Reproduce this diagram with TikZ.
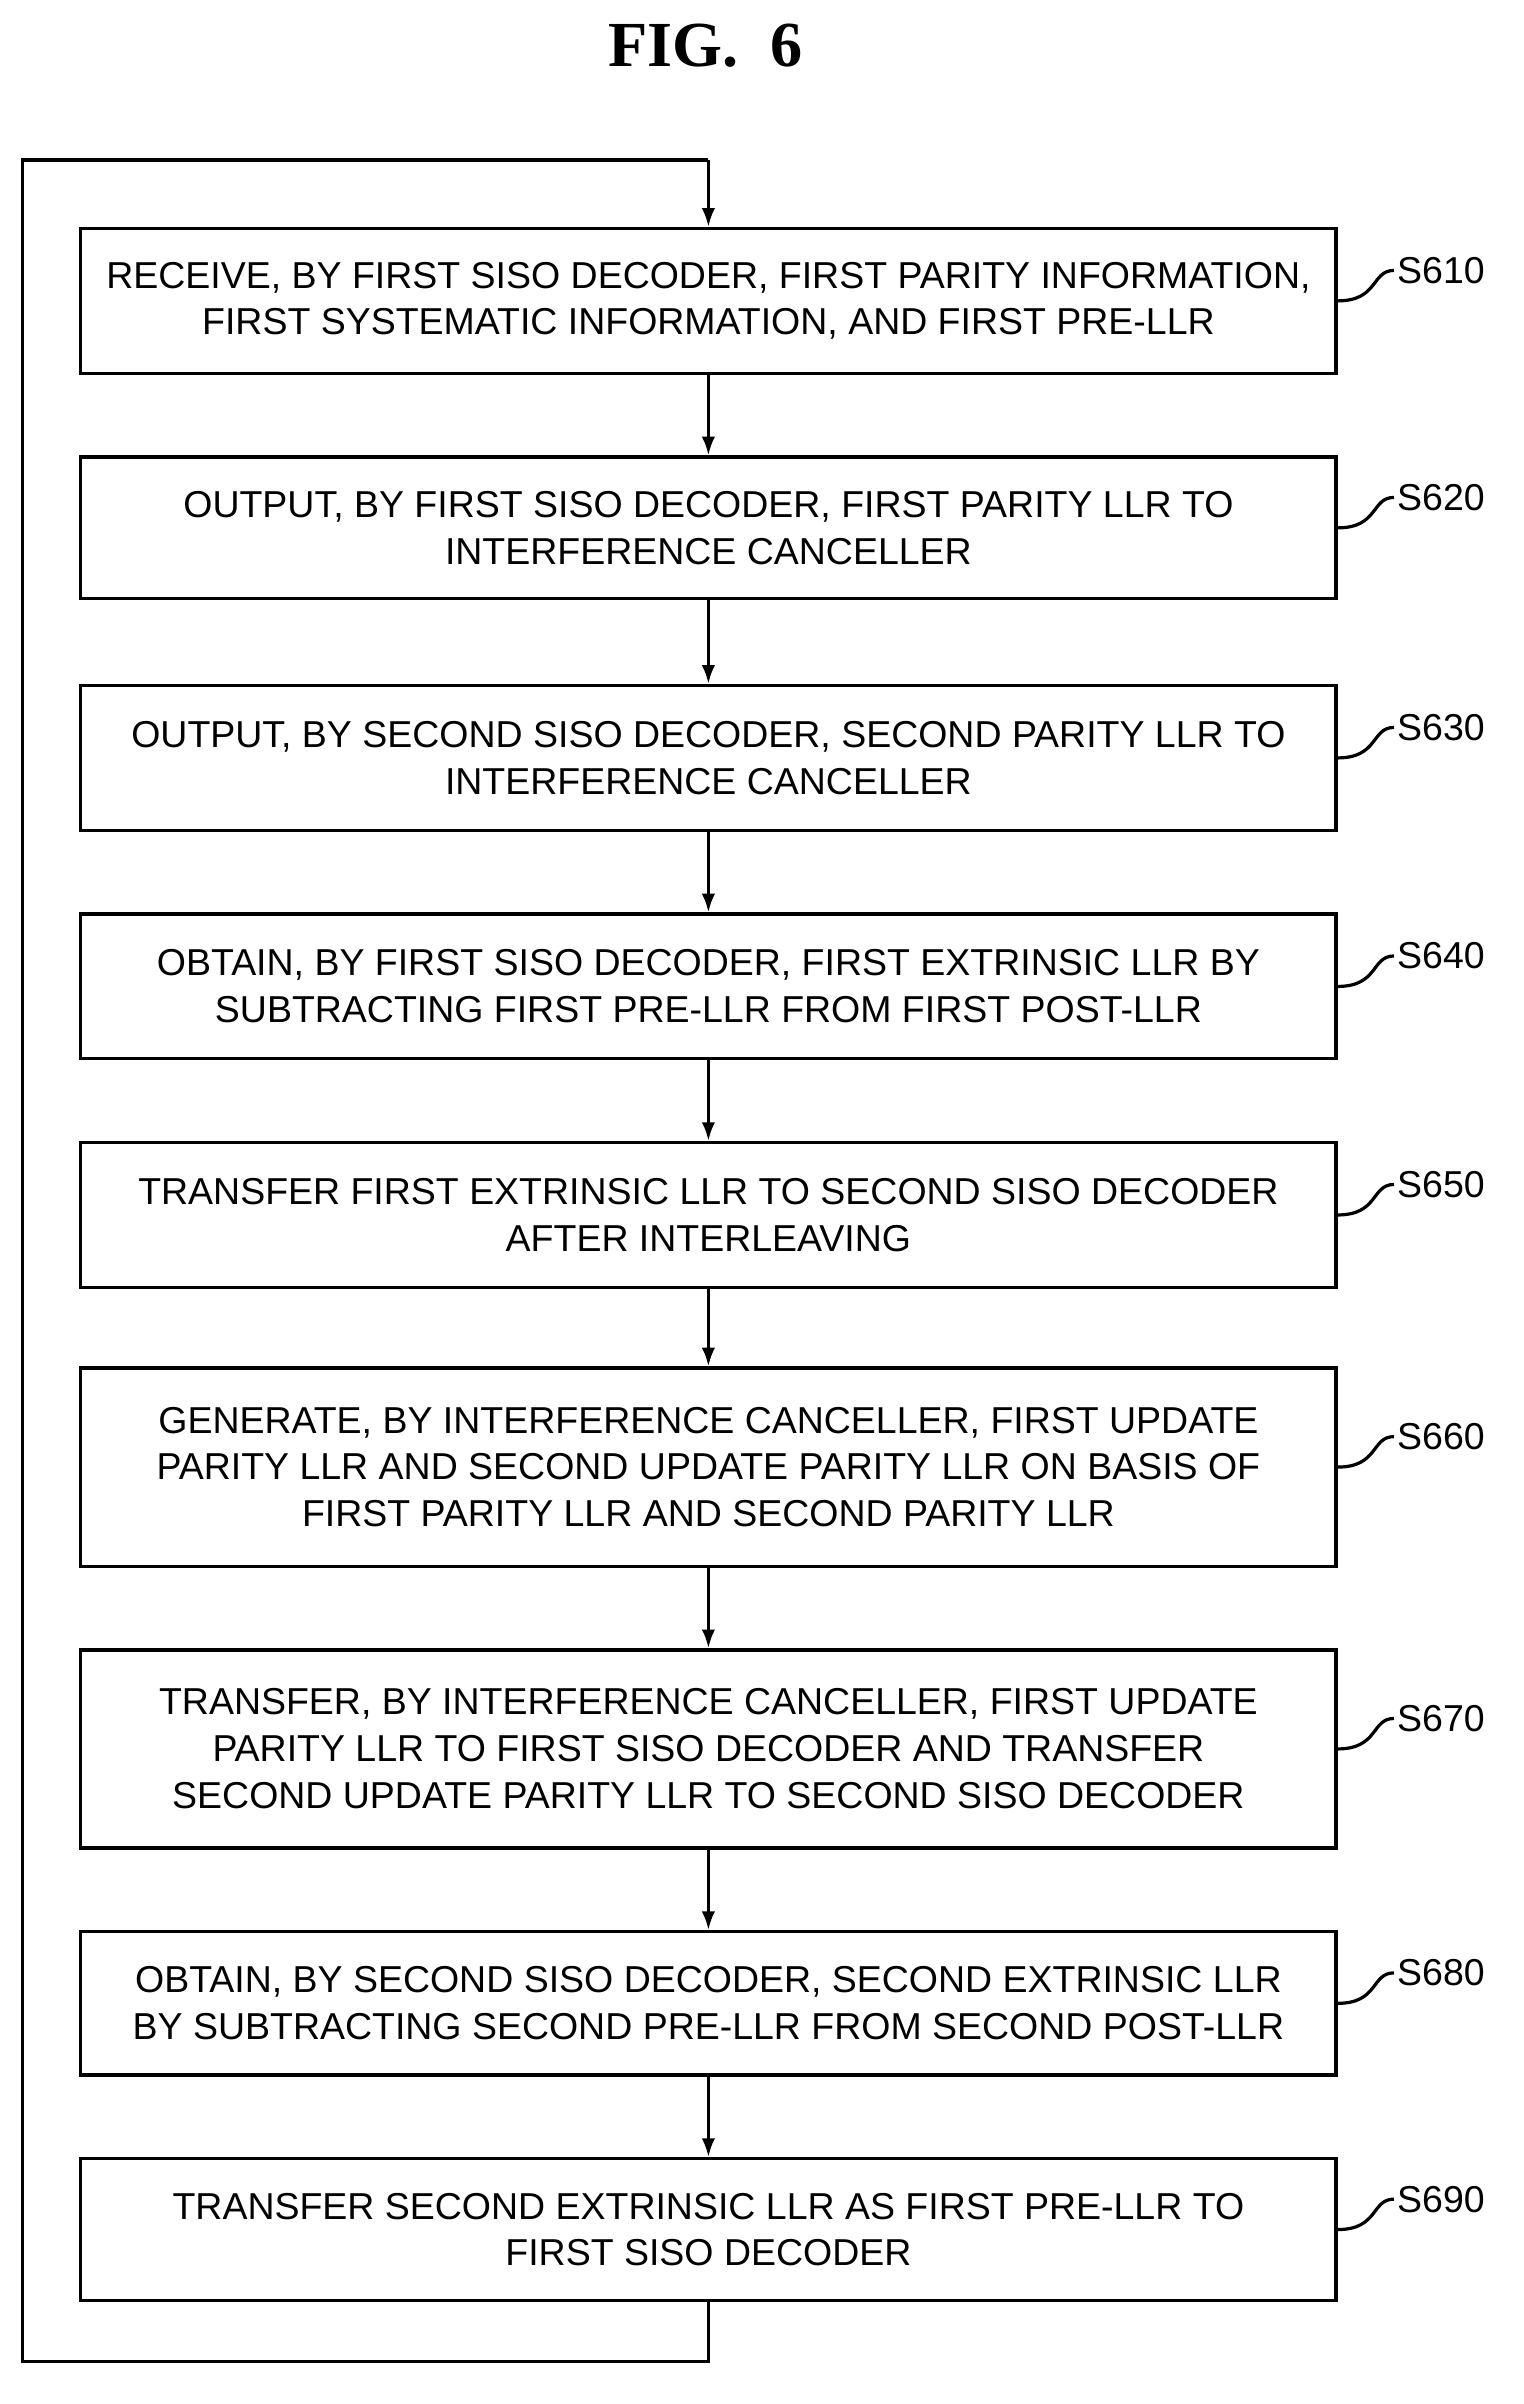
\documentclass[tikz,border=0pt]{standalone}
\usepackage{fontspec}
\setmainfont{Liberation Sans}
\newfontfamily\titlefont{Liberation Serif}
\usetikzlibrary{arrows.meta}
\begin{document}
\begin{tikzpicture}[x=0.02cm,y=-0.02cm,
  box/.style={draw,line width=1.2pt,minimum width=16.48cm,align=center,font=\fontsize{14}{17.5}\selectfont,inner sep=0},
  lab/.style={font=\fontsize{14}{15}\selectfont,anchor=west,inner sep=1pt},
  arr/.style={line width=1.2pt,-{Latex[length=7pt,width=5pt]}},
  ln/.style={line width=1.2pt}]
\useasboundingbox (0,0) rectangle (1000,1578);
\node[font=\titlefont\bfseries\fontsize{24}{28}\selectfont] (t) at (463,30) {FIG.\ \ 6};
\def\B#1#2#3#4#5{\node[box,minimum height=#3*0.02cm] (#1) at (465,#2) {#4};
  \node[lab] (l#1) at (915,#2-20) {#5};
  \draw[ln] (#1.east) .. controls (905,#2) and (900,#2-20) .. (l#1.west);}
\B{a}{197.5}{95}{RECEIVE, BY FIRST SISO DECODER, FIRST PARITY INFORMATION,\\FIRST SYSTEMATIC INFORMATION, AND FIRST PRE-LLR}{S610}
\B{b}{346.5}{93}{OUTPUT, BY FIRST SISO DECODER, FIRST PARITY LLR TO\\INTERFERENCE CANCELLER}{S620}
\B{c}{497.5}{95}{OUTPUT, BY SECOND SISO DECODER, SECOND PARITY LLR TO\\INTERFERENCE CANCELLER}{S630}
\B{d}{647.5}{95}{OBTAIN, BY FIRST SISO DECODER, FIRST EXTRINSIC LLR BY\\SUBTRACTING FIRST PRE-LLR FROM FIRST POST-LLR}{S640}
\B{e}{797.5}{95}{TRANSFER FIRST EXTRINSIC LLR TO SECOND SISO DECODER\\AFTER INTERLEAVING}{S650}
\B{f}{963}{130}{GENERATE, BY INTERFERENCE CANCELLER, FIRST UPDATE\\PARITY LLR AND SECOND UPDATE PARITY LLR ON BASIS OF\\FIRST PARITY LLR AND SECOND PARITY LLR}{S660}
\B{g}{1148}{130}{TRANSFER, BY INTERFERENCE CANCELLER, FIRST UPDATE\\PARITY LLR TO FIRST SISO DECODER AND TRANSFER\\SECOND UPDATE PARITY LLR TO SECOND SISO DECODER}{S670}
\B{h}{1315}{94}{OBTAIN, BY SECOND SISO DECODER, SECOND EXTRINSIC LLR\\BY SUBTRACTING SECOND PRE-LLR FROM SECOND POST-LLR}{S680}
\B{i}{1463.5}{93}{TRANSFER SECOND EXTRINSIC LLR AS FIRST PRE-LLR TO\\FIRST SISO DECODER}{S690}
\foreach \p/\q in {a/b,b/c,c/d,d/e,e/f,f/g,g/h,h/i} \draw[arr] (\p.south) -- (\q.north);
\coordinate (c1) at (465,1550); \coordinate (c2) at (15,1550);
\coordinate (c3) at (15,105); \coordinate (c4) at (465,105);
\draw[ln] (i.south) -- (c1) -- (c2) -- (c3) -- (c4);
\draw[arr] (c4) -- (a.north);
\end{tikzpicture}
\end{document}
